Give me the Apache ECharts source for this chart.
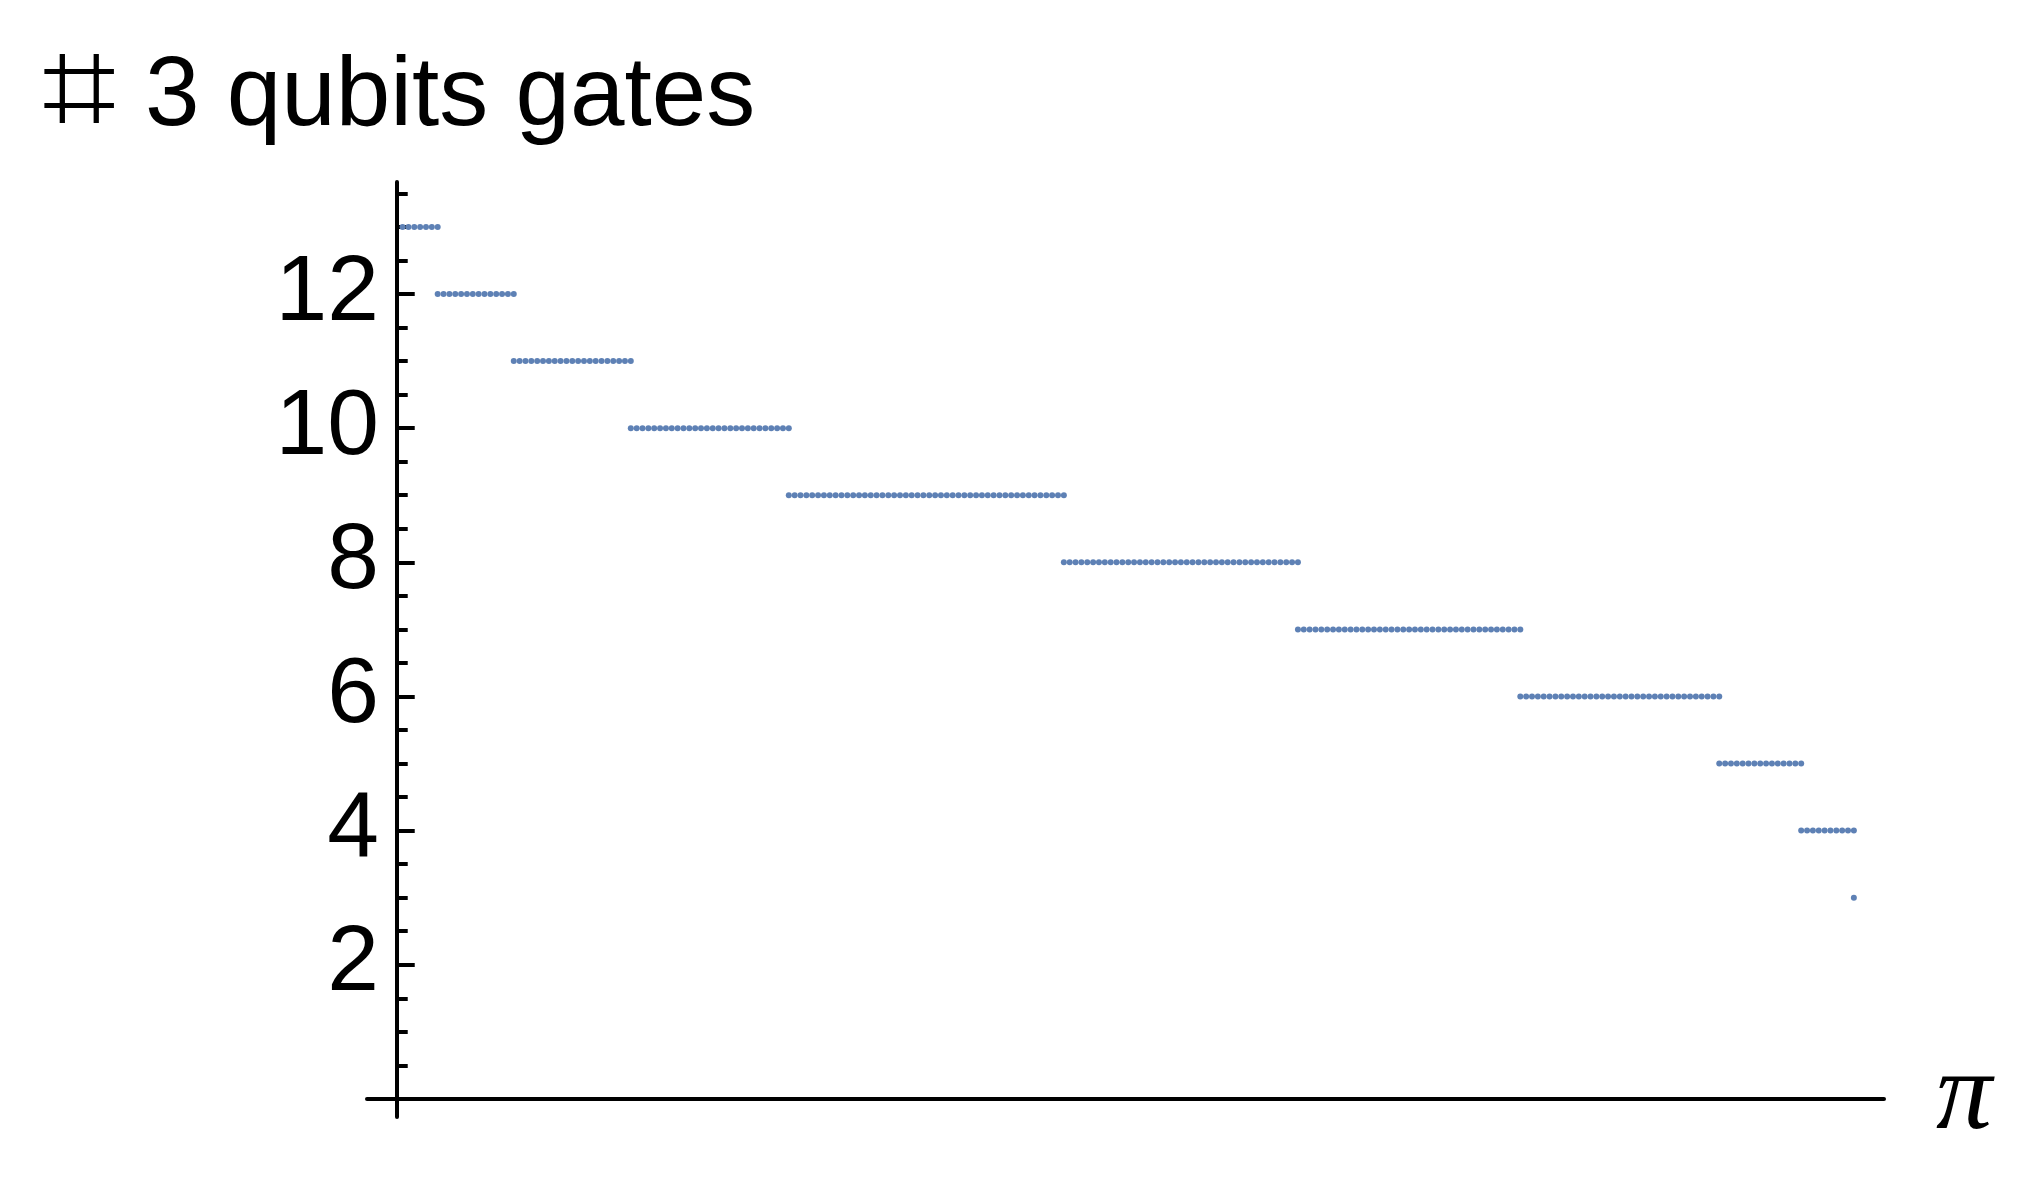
<!DOCTYPE html>
<html>
<head>
<meta charset="utf-8">
<title># 3 qubits gates</title>
<script src="https://cdn.jsdelivr.net/npm/echarts@6/dist/echarts.min.js"></script>
<style>
  html, body { margin: 0; padding: 0; background: #fff; }
  #chart { width: 2041px; height: 1183px; }
</style>
</head>
<body>
<div id="chart"></div>
<script>
// gate count of each plateau
var gateLevels = [13, 12, 11, 10, 9, 8, 7, 6, 5, 4, 3]
// sample index where each plateau starts and ends (neighbours share the boundary sample)
var stepStart = [1, 7, 20, 40, 67, 114, 154, 192, 226, 240, 249]
var stepEnd   = [7, 20, 40, 67, 114, 154, 192, 226, 240, 249, 249]

var yLabelTicks = [2, 4, 6, 8, 10, 12]
var yMajorTicks = [0, 2, 4, 6, 8, 10, 12]
var yMinorTicks = [0.5, 1, 1.5, 2.5, 3, 3.5, 4.5, 5, 5.5, 6.5, 7, 7.5, 8.5, 9, 9.5,
                   10.5, 11, 11.5, 12.5, 13, 13.5]

var points = []
gateLevels.forEach(function (level, i) {
  for (var x = stepStart[i]; x <= stepEnd[i]; x++) {
    points.push([x, level])
  }
})

var chart = echarts.init(document.getElementById('chart'), null, { renderer: 'canvas' })

var font = '"Liberation Sans", Arial, sans-serif'

chart.setOption({
  animation: false,
  backgroundColor: '#ffffff',
  title: [{
    text: '\u2317',
    left: 37,
    top: 27,
    textStyle: { fontFamily: '"DejaVu Sans", sans-serif', fontSize: 132, fontWeight: 'normal', color: '#000' }
  }, {
    text: '3 qubits gates',
    left: 140,
    top: 44,
    textStyle: { fontFamily: font, fontSize: 98, fontWeight: 'normal', color: '#000' }
  }],
  grid: { left: 367, right: 157, top: 182, bottom: 66, containLabel: false },
  xAxis: {
    type: 'value',
    min: -5.08,
    max: 254.15,
    name: '\u03c0',
    nameLocation: 'end',
    nameGap: 52,
    nameTextStyle: {
      fontFamily: '"Liberation Serif", serif',
      fontStyle: 'italic',
      fontSize: 112,
      color: '#000',
      verticalAlign: 'middle'
    },
    axisLine: { onZero: true, lineStyle: { color: '#000', width: 4 } },
    axisTick: { show: false },
    axisLabel: { show: false },
    splitLine: { show: false }
  },
  yAxis: [{
    type: 'value',
    position: 'left',
    min: -0.27,
    max: 13.67,
    axisLine: { onZero: true, onZeroAxisIndex: 0, lineStyle: { color: '#000', width: 4 } },
    axisTick: {
      inside: true, length: 18, customValues: yMajorTicks,
      lineStyle: { color: '#000', width: 4 }
    },
    axisLabel: {
      customValues: yLabelTicks, margin: -12,
      fontFamily: font, fontSize: 93, color: '#000'
    },
    splitLine: { show: false }
  }, {
    type: 'value',
    position: 'left',
    min: -0.27,
    max: 13.67,
    axisLine: { show: false, onZero: true, onZeroAxisIndex: 0 },
    axisTick: {
      inside: true, length: 11, customValues: yMinorTicks,
      lineStyle: { color: '#000', width: 4 }
    },
    axisLabel: { show: false },
    splitLine: { show: false }
  }],
  series: [{
    type: 'scatter',
    data: points,
    symbol: 'circle',
    symbolSize: 6,
    itemStyle: { color: '#5E81B5', opacity: 1 }
  }]
})
</script>
</body>
</html>
